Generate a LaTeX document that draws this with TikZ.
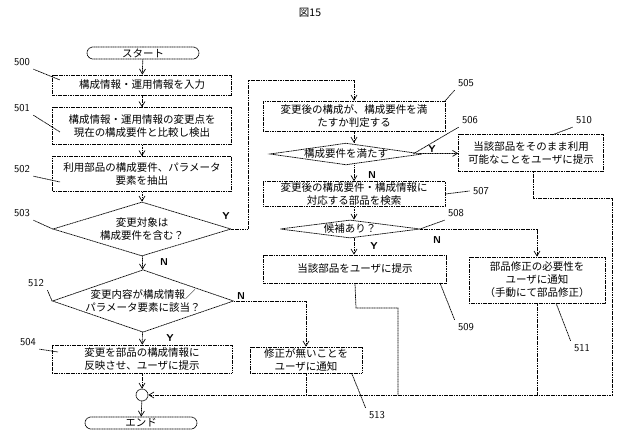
\documentclass[tikz,border=0pt]{standalone}
\usepackage{fontspec}
\setmainfont{Noto Sans CJK JP}
\usetikzlibrary{shapes.geometric,shapes.misc,positioning,arrows.meta,calc}
\tikzset{
  line/.style={dash pattern=on 1.2pt off 0.5pt, line width=0.7pt},
  box/.style={line, draw, rectangle, inner sep=1pt, align=center, font=\fontsize{10.5}{13}\selectfont},
  dec/.style={line, draw, diamond, inner sep=0pt, align=center, font=\fontsize{10.5}{13}\selectfont},
  term/.style={line, draw, rounded rectangle, inner sep=0pt, font=\fontsize{10.5}{12}\selectfont},
  flow/.style={line, -{Straight Barb[length=5pt,width=6pt]}},
  tag/.style={font=\fontsize{10.5}{12}\selectfont\sffamily},
  yn/.style={font=\fontsize{10}{12}\selectfont\bfseries\sffamily},
}
\begin{document}
\begin{tikzpicture}[x=1pt,y=-1pt]
  \useasboundingbox (0,0) rectangle (622,441);
  \node[font=\fontsize{10.5}{12}\selectfont] (title) at (310,13) {図15};

  % left column
  \node[term, minimum width=112pt, minimum height=12pt] (start) at (143,53) {スタート};
  \node[box, minimum width=179pt, minimum height=20pt] (s500) at (142,85) {構成情報・運用情報を入力};
  \node[box, minimum width=179pt, minimum height=37pt] (s501) at (142,126) {構成情報・運用情報の変更点を\\現在の構成要件と比較し検出};
  \node[box, minimum width=179pt, minimum height=35pt] (s502) at (142,174) {利用部品の構成要件、パラメータ\\要素を抽出};
  \node[dec, minimum width=178pt, minimum height=54pt, aspect=3.3] (s503) at (142,229) {変更対象は\\構成要件を含む？};
  \node[dec, minimum width=180pt, minimum height=62pt, aspect=2.9] (s512) at (143,301) {変更内容が構成情報／\\パラメータ要素に該当？};
  \node[box, minimum width=180pt, minimum height=28pt] (s504) at (142,359) {変更を部品の構成情報に\\反映させ、ユーザに提示};
  \node[box, minimum width=112pt, minimum height=26pt] (s513) at (306,360) {修正が無いことを\\ユーザに通知};
  \node[line, draw, circle, minimum size=12pt, inner sep=0pt] (join) at (142,395) {};
  \node[term, minimum width=112pt, minimum height=12pt] (end) at (141,423) {エンド};

  % right columns
  \node[box, minimum width=182pt, minimum height=30pt] (s505) at (354,116) {変更後の構成が、構成要件を満\\たすか判定する};
  \node[dec, minimum width=140pt, minimum height=18pt, aspect=7] (s506) at (346,154) {構成要件を満たす};
  \node[box, minimum width=145pt, minimum height=37pt] (s510) at (531,153) {当該部品をそのまま利用\\可能なことをユーザに提示};
  \node[box, minimum width=182pt, minimum height=25pt] (s507) at (354,194) {変更後の構成要件・構成情報に\\対応する部品を検索};
  \node[dec, minimum width=140pt, minimum height=18pt, aspect=7] (s508) at (350,229) {候補あり？};
  \node[box, minimum width=183pt, minimum height=28pt] (s509) at (355,269) {当該部品をユーザに提示};
  \node[box, minimum width=136pt, minimum height=46pt] (s511) at (537,280) {部品修正の必要性を\\ユーザに通知\\（手動にて部品修正）};

  % main flow
  \draw[flow] (start) -- (s500);
  \draw[flow] (s500) -- (s501);
  \draw[flow] (s501) -- (s502);
  \draw[flow] (s502) -- (s503);
  \draw[flow] (s503) -- (s512);
  \draw[flow] (s512) -- (s504);
  \draw[flow] (s504) -- (join);
  \draw[flow] (join) -- (end);
  \draw[flow] (s503.east) -- (248,229) -- (248,80) -- (354,80) -- (s505);
  \draw[flow] (s512.east) -- (306,301) -- (s513);
  \draw[flow] (s505) -- (s505|-s506.north);
  \draw[flow] (s506) -- (s510);
  \draw[flow] (s505|-s506.south) -- (s505|-s507.north);
  \draw[flow] (s507) -- (s505|-s508.north);
  \draw[flow] (s505|-s508.south) -- (s505|-s509.north);
  \draw[flow] (s508.east) -- (537,229) -- (s511);
  \coordinate (r) at (612,395);
  \draw[line] (s513.south) -- (306,395);
  \draw[line] (s509.south) -- (356,308) -- (398,308) -- (398,395);
  \draw[line] (s511.south) -- (537,395);
  \draw[flow] (533,172) -- (533,198) -- (612,198) -- (r) -- (join);

  % yes / no
  \node[yn] (y503) at (226,216) {Y};
  \node[yn] (n503) at (164,262) {N};
  \node[yn] (n512) at (241,296) {N};
  \node[yn] (y512) at (170,338) {Y};
  \node[yn] (y506) at (432,149) {Y};
  \node[yn] (n506) at (372,175) {N};
  \node[yn] (y508) at (374,246) {Y};
  \node[yn] (n508) at (437,240) {N};

  % step numbers
  \node[tag] (t500) at (22,62) {500};
  \node[tag] (t501) at (22,108) {501};
  \node[tag] (t502) at (22,169) {502};
  \node[tag] (t503) at (22,213) {503};
  \node[tag] (t512) at (36,283) {512};
  \node[tag] (t504) at (28,342) {504};
  \node[tag] (t505) at (466,83) {505};
  \node[tag] (t506) at (470,120) {506};
  \node[tag] (t510) at (584,120) {510};
  \node[tag] (t507) at (481,191) {507};
  \node[tag] (t508) at (456,213) {508};
  \node[tag] (t509) at (466,327) {509};
  \node[tag] (t511) at (582,348) {511};
  \node[tag] (t513) at (377,415) {513};
  \draw[line] (t500.south east) -- (60,80);
  \draw[line] (t501.south east) -- (60,132);
  \draw[line] (t502.south east) -- (60,182);
  \draw[line] (t503.south east) -- (s503.west);
  \draw[line] (t512.south east) -- (s512.west);
  \draw[line] (t504.south east) -- (58,352);
  \draw[line] (t505.south west) -- (445,101);
  \draw[line] (t506.south west) -- (413,154);
  \draw[line] (t510.south west) -- (552,135);
  \draw[line] (t507.west) -- (s507.east);
  \draw[line] (t508.south west) -- (420,229);
  \draw[line] (t509.north west) -- (440,283);
  \draw[line] (t511.north west) -- (556,303);
  \draw[line] (t513.north west) -- (352,374);
\end{tikzpicture}
\end{document}
